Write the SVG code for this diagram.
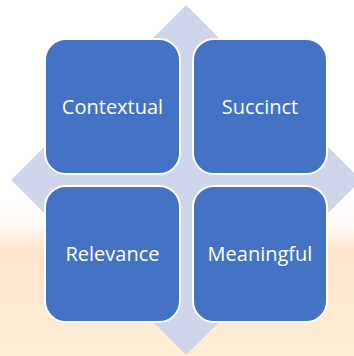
<svg xmlns="http://www.w3.org/2000/svg" width="354" height="356" viewBox="0 0 354 356">
  <style>
    .box { fill: #4472C4; stroke: #FFFFFF; stroke-width: 2; }
    .lbl { fill: #FFFFFF; font-family: "Open Sans", "Liberation Sans", sans-serif; font-size: 20px; text-anchor: middle; }
  </style>
  <defs>
    <linearGradient id="bg" x1="0" y1="0" x2="0" y2="1">
      <stop offset="0" stop-color="#FFFFFF"/>
      <stop offset="0.12" stop-color="#FFFBF6"/>
      <stop offset="0.28" stop-color="#FDE6D1"/>
      <stop offset="0.55" stop-color="#FDE9D3"/>
      <stop offset="1" stop-color="#FEEFD6"/>
    </linearGradient>
  </defs>
  <rect width="354" height="356" fill="#FFFFFF"/>
  <rect x="-10" y="205" width="374" height="160" fill="url(#bg)"/>
  <g id="background-diamond">
    <polygon points="186,5 361,180 186,355 11,180" fill="#CFD5EA"/>
  </g>
  <g id="connectors"></g>
  <g id="node-contextual">
    <rect class="box" x="45" y="39" width="135" height="135" rx="21" ry="21"/>
    <text class="lbl" x="112.5" y="114">Contextual</text>
  </g>
  <g id="node-succinct">
    <rect class="box" x="193" y="39" width="134" height="135" rx="21" ry="21"/>
    <text class="lbl" x="260" y="114">Succinct</text>
  </g>
  <g id="node-relevance">
    <rect class="box" x="45" y="186" width="135" height="136" rx="21" ry="21"/>
    <text class="lbl" x="112.5" y="261">Relevance</text>
  </g>
  <g id="node-meaningful">
    <rect class="box" x="193" y="186" width="134" height="136" rx="21" ry="21"/>
    <text class="lbl" x="260" y="261">Meaningful</text>
  </g>
</svg>
